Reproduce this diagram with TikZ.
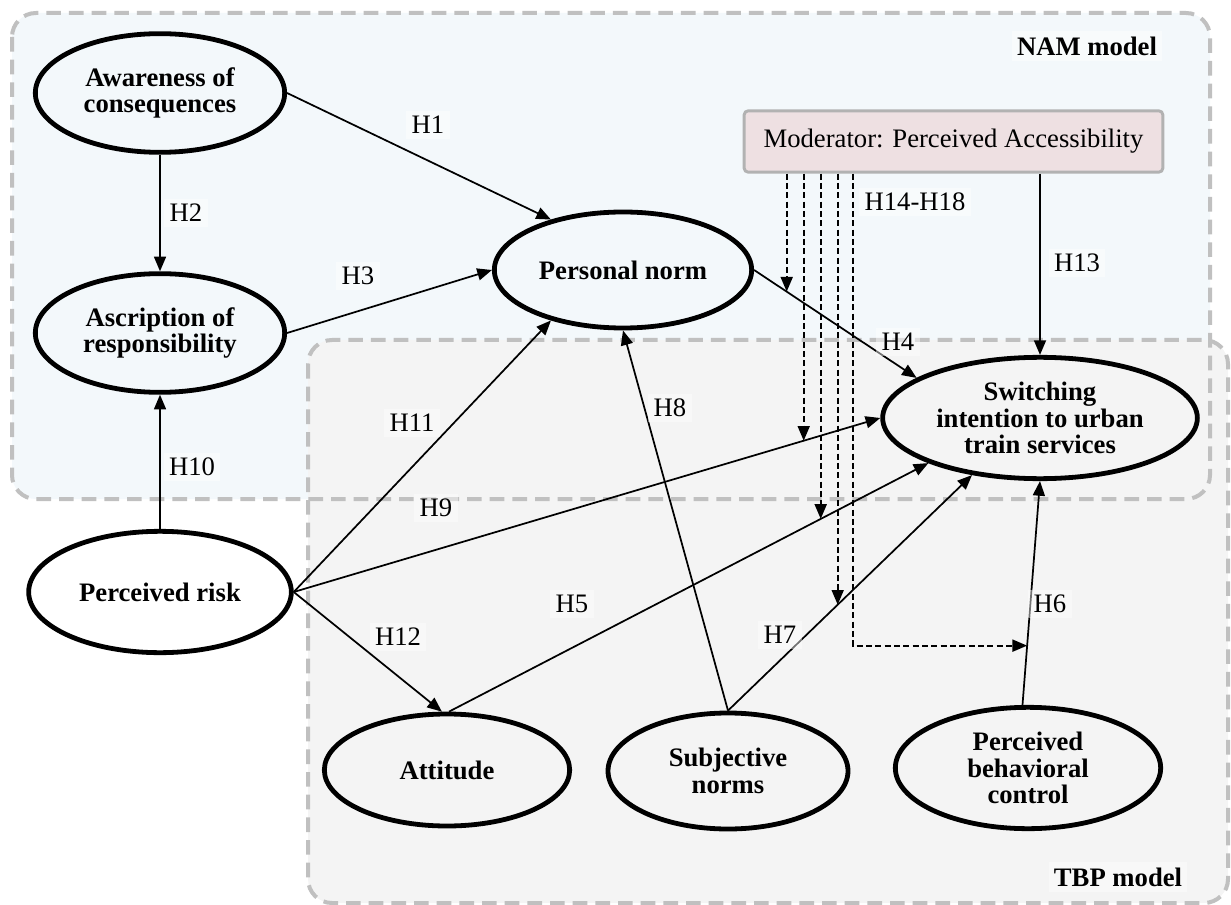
\documentclass[tikz,border=0pt]{standalone}
\usepackage{fontspec}
\setmainfont{Liberation Serif}
\usetikzlibrary{shapes.geometric,arrows.meta,intersections,calc}

\definecolor{namfill}{RGB}{243,248,251}
\definecolor{tbpfill}{RGB}{244,244,244}
\definecolor{boxline}{RGB}{192,192,192}
\definecolor{modfill}{RGB}{238,224,226}
\definecolor{modline}{RGB}{178,178,178}

\tikzset{
  construct/.style={ellipse, draw=black, line width=3.6pt, align=center, inner sep=0pt,
    font=\fontsize{20}{20}\selectfont\bfseries},
  hyp/.style={line width=1.3pt, -{Triangle[length=11pt,width=9pt]}},
  modhyp/.style={hyp, dash pattern=on 4.5pt off 2.5pt},
  hlabel/.style={font=\fontsize{20}{22}\selectfont, fill=white, fill opacity=0.45,
    text opacity=1, inner sep=4pt},
  modelbox/.style={draw=boxline, line width=3pt, dash pattern=on 11pt off 6pt, rounded corners=18pt}
}

\begin{document}
\begin{tikzpicture}[x=0.75pt,y=0.75pt,yscale=-1,xscale=1]
        \useasboundingbox (0,0) rectangle (1231,905);
        % model regions
        \fill[namfill, rounded corners=18pt] (12,13) rectangle (1210,499);
        \fill[tbpfill, rounded corners=18pt] (308,340) rectangle (1228,903);
        \draw[modelbox] (12,13) rectangle (1210,499);
        \draw[modelbox] (308,340) rectangle (1228,903);
        \node[hlabel, font=\fontsize{20}{20}\selectfont\bfseries] (namtitle) at (1087,46) {NAM model};
        \node[hlabel, font=\fontsize{20}{20}\selectfont\bfseries] (tbptitle) at (1118,877) {TBP model};
        % constructs
        \node[construct, minimum width=187pt, minimum height=89pt] (aoc) at (160,93) {Awareness of\\consequences};
        \node[construct, minimum width=187pt, minimum height=89pt] (ar) at (160,333) {Ascription of\\responsibility};
        \node[construct, minimum width=197pt, minimum height=91pt] (pr) at (160,592) {Perceived risk};
        \node[construct, minimum width=193pt, minimum height=87pt] (pn) at (623,270) {Personal norm};
        \node[construct, minimum width=236pt, minimum height=91pt] (sw) at (1040,418) {Switching\\intention to urban\\train services};
        \node[construct, minimum width=184pt, minimum height=84pt] (att) at (447,770) {Attitude};
        \node[construct, minimum width=180pt, minimum height=87pt] (sn) at (728,771) {Subjective\\norms};
        \node[construct, minimum width=199pt, minimum height=91pt] (pbc) at (1028,768) {Perceived\\behavioral\\control};
        % moderator
        \node[draw=modline, fill=modfill, line width=2.2pt, rounded corners=3pt, minimum width=314pt,
          minimum height=46pt, font=\fontsize{20}{20}\selectfont] (mod) at (953.5,141.5) {Moderator: Perceived Accessibility};
        % hypotheses
        \draw[hyp] (aoc.east) -- (pn.145);
        \draw[hyp] (aoc.south) -- (ar.north);
        \draw[hyp] (ar.east) -- (pn.west);
        \draw[hyp, name path=h4] (pn.east) -- (sw.162);
        \draw[hyp, name path=h5] (att.88) -- (sw.202);
        \draw[hyp, name path=h6] (pbc.95) -- (sw.south);
        \draw[hyp, name path=h7] (sn.north) -- (sw.220);
        \draw[hyp] (sn.north) -- (pn.south);
        \draw[hyp, name path=h9] (pr.east) -- (sw.west);
        \draw[hyp] (pr.north) -- (ar.south);
        \draw[hyp] (pr.east) -- (pn.215);
        \draw[hyp] (pr.east) -- (att.95);
        \draw[hyp] (mod.south -| sw.north) -- (sw.north);
        % moderating effects
        \foreach \dx/\hp in {44/h4, 61/h9, 78/h5, 95/h7} {
          \path[name path=vline] ($(mod.south west)+(\dx,0)$) -- +(0,600);
          \path[name intersections={of=vline and \hp, by=xm}];
          \draw[modhyp] ($(mod.south west)+(\dx,0)$) -- (xm);
        }
        \path[name path=hline] ($(mod.south west)+(110,472)$) -- +(400,0);
        \path[name intersections={of=hline and h6, by=xh6}];
        \draw[modhyp] ($(mod.south west)+(110,0)$) |- (xh6);
        % labels
        \node[hlabel] (l1) at (428,125) {H1};
        \node[hlabel] (l2) at (186,213) {H2};
        \node[hlabel] (l3) at (358,276) {H3};
        \node[hlabel] (l4) at (898,342) {H4};
        \node[hlabel] (l5) at (572,604) {H5};
        \node[hlabel] (l6) at (1050,604) {H6};
        \node[hlabel] (l7) at (780,635) {H7};
        \node[hlabel] (l8) at (670,408) {H8};
        \node[hlabel] (l9) at (436,508) {H9};
        \node[hlabel] (l10) at (192,467) {H10};
        \node[hlabel] (l11) at (412,423) {H11};
        \node[hlabel] (l12) at (398,637) {H12};
        \node[hlabel] (l13) at (1077,263) {H13};
        \node[hlabel] (l14) at (915,202) {H14-H18};
\end{tikzpicture}
\end{document}
